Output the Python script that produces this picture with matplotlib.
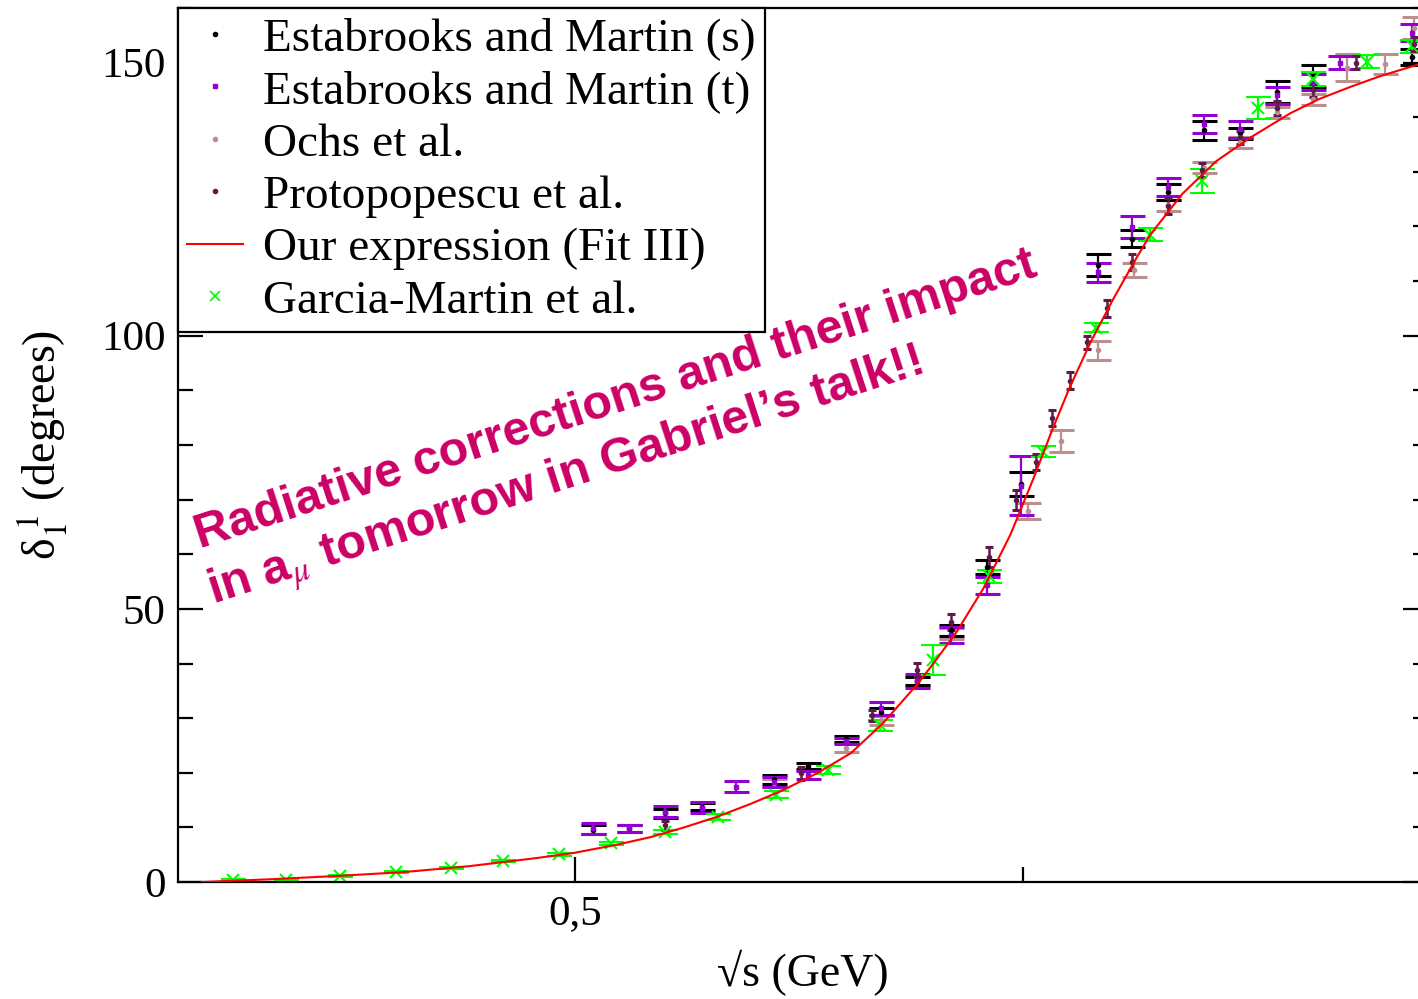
import numpy as np
import matplotlib
matplotlib.use("Agg")
import matplotlib.pyplot as plt
from matplotlib.lines import Line2D
from matplotlib.ticker import MultipleLocator, FixedLocator, FuncFormatter

# ----------- Data ---------------------------------
# Estabrooks and Martin (s)
em_s_x = [0.510, 0.530, 0.550, 0.571, 0.611, 0.630, 0.651, 0.671, 0.691, 0.710,
          0.730, 0.749, 0.792, 0.811, 0.831, 0.851, 0.871, 0.892, 0.912, 0.967]
em_s_y = [9.6, 9.8, 12.6, 13.8, 18.8, 21.2, 26.2, 31.2, 36.8, 46.1,
          57.7, 72.9, 113.0, 117.8, 126.3, 137.6, 137.1, 144.6, 147.6, 151.0]
em_s_e = [0.8, 0.6, 0.8, 0.7, 0.8, 0.6, 0.6, 0.7, 0.8, 1.0,
          1.3, 2.2, 2.0, 1.5, 1.4, 1.8, 1.0, 2.0, 2.0, 1.5]

# Estabrooks and Martin (t)
em_t_x = [0.510, 0.530, 0.550, 0.571, 0.590, 0.611, 0.630, 0.651, 0.671, 0.691,
          0.710, 0.730, 0.749, 0.792, 0.811, 0.831, 0.851, 0.871, 0.892, 0.912,
          0.927, 0.967]
em_t_y = [9.8, 9.8, 12.9, 13.6, 17.4, 18.3, 19.6, 25.8, 31.8, 36.8,
          45.2, 54.3, 72.5, 111.6, 119.9, 127.2, 138.8, 137.8, 144.0, 146.4,
          150.0, 155.5]
em_t_e = [1.0, 0.7, 1.0, 1.0, 1.0, 1.0, 0.8, 0.6, 1.2, 1.3,
          1.5, 1.5, 5.4, 1.7, 2.0, 1.6, 1.6, 1.6, 1.5, 1.5,
          1.2, 1.5]

# Ochs et al.
ochs_x = [0.611, 0.651, 0.671, 0.691, 0.710, 0.753, 0.771, 0.792, 0.812, 0.831,
          0.851, 0.871, 0.892, 0.912, 0.931, 0.952, 0.968]
ochs_y = [18.1, 24.6, 29.6, 36.8, 45.5, 67.9, 80.8, 97.3, 112.1, 123.9,
          130.8, 135.4, 140.9, 143.3, 149.1, 149.7, 156.4]
ochs_e = [0.8, 0.8, 0.8, 1.0, 1.0, 1.5, 2.0, 1.7, 1.3, 1.0,
          1.0, 1.0, 1.0, 1.0, 2.4, 1.8, 2.0]

# Protopopescu et al.
prot_x = [0.550, 0.626, 0.666, 0.691, 0.710, 0.731, 0.746, 0.757, 0.766, 0.776,
          0.786, 0.797, 0.811, 0.831, 0.850, 0.871, 0.892, 0.912, 0.936, 0.968]
prot_y = [10.4, 19.9, 30.5, 38.8, 47.6, 59.5, 69.9, 76.9, 84.9, 91.8,
          98.8, 105.0, 113.5, 123.8, 130.3, 136.3, 141.7, 144.9, 150.0, 153.4]
prot_e = [0.8, 1.2, 1.0, 1.3, 1.5, 1.8, 1.8, 1.5, 1.5, 1.5,
          1.2, 1.5, 1.5, 1.5, 1.3, 1.2, 1.2, 1.2, 1.2, 1.2]

# Garcia-Martin et al.
gm_x = [0.309, 0.339, 0.369, 0.400, 0.431, 0.460, 0.491, 0.520, 0.550, 0.580,
        0.612, 0.641, 0.670, 0.700, 0.731, 0.761, 0.791, 0.821, 0.850, 0.881,
        0.912, 0.942, 0.967]
gm_y = [0.37, 0.37, 1.1, 1.8, 2.6, 3.8, 5.1, 7.1, 9.2, 11.9,
        16.0, 20.5, 28.7, 40.6, 56.0, 78.8, 101.5, 118.5, 128.3, 141.7,
        147.0, 150.2, 153.0]
gm_e = [0.1, 0.1, 0.15, 0.2, 0.2, 0.2, 0.25, 0.3, 0.4, 0.5,
        0.6, 0.7, 1.0, 2.7, 1.2, 1.0, 0.8, 1.2, 2.2, 2.0,
        1.2, 1.2, 1.2]

# Our expression (Fit III)
fit_x = [0.292, 0.330, 0.367, 0.404, 0.441, 0.479, 0.499, 0.523, 0.542, 0.560,
         0.579, 0.598, 0.616, 0.635, 0.654, 0.672, 0.691, 0.700, 0.713, 0.728,
         0.743, 0.756, 0.766, 0.776, 0.788, 0.800, 0.812, 0.821, 0.839, 0.858,
         0.877, 0.899, 0.915, 0.933, 0.950, 0.970]
fit_y = [0.0, 0.5, 1.1, 1.8, 2.9, 4.4, 5.3, 6.8, 8.2, 9.9,
         11.9, 14.3, 16.8, 19.9, 23.6, 29.1, 36.2, 40.0, 45.8, 53.8,
         63.6, 74.0, 82.5, 90.5, 99.0, 106.5, 113.5, 118.5, 126.0, 132.0,
         136.3, 140.7, 143.3, 145.6, 147.6, 149.6]

labels = ["Estabrooks and Martin (s)", "Estabrooks and Martin (t)", "Ochs et al.",
          "Protopopescu et al.", "Our expression (Fit III)", "Garcia-Martin et al."]
# --------------------------------------------------

C_EMS = "black"
C_EMT = "#9400d3"
C_OCHS = "#bc8f8f"
C_PROT = "#5e1a48"
C_FIT = "#ff0000"
C_GM = "#00ff00"

plt.rcParams["font.family"] = "serif"
plt.rcParams["font.serif"] = ["Liberation Serif", "DejaVu Serif"]
plt.rcParams["mathtext.fontset"] = "stix"

fig = plt.figure(figsize=(14.18, 9.99), dpi=100)
ax = fig.add_axes([178 / 1418, 1 - 882 / 999, (1428 - 178) / 1418, (882 - 8) / 999])

eb = dict(linestyle="none", capsize=9, capthick=2.2, elinewidth=1.6)
ax.errorbar(ochs_x, ochs_y, yerr=ochs_e, fmt="o", ms=3, color=C_OCHS, **eb)
ax.errorbar(em_s_x, em_s_y, yerr=em_s_e, fmt="o", ms=3, color=C_EMS, **eb)
ax.errorbar(em_t_x, em_t_y, yerr=em_t_e, fmt="s", ms=3.5, color=C_EMT, **eb)
ax.errorbar(gm_x, gm_y, yerr=gm_e, fmt="x", ms=8, mew=1.5, color=C_GM, **eb)
ax.errorbar(prot_x, prot_y, yerr=prot_e, fmt="o", ms=3, color=C_PROT,
            linestyle="none", capsize=3, capthick=2.2, elinewidth=1.8)
ax.plot(fit_x, fit_y, color=C_FIT, lw=1.5, zorder=5)

ax.set_xlim(0.2785, 0.976)
ax.set_ylim(0, 160)

ax.xaxis.set_major_locator(FixedLocator([0.5, 1.0]))
ax.xaxis.set_minor_locator(FixedLocator([0.25, 0.75]))
ax.xaxis.set_major_formatter(FuncFormatter(lambda v, p: f"{v:g}".replace(".", ",")))
ax.yaxis.set_major_locator(MultipleLocator(50))
ax.yaxis.set_minor_locator(MultipleLocator(10))

ax.tick_params(which="both", direction="in", width=1.6, labelsize=31, right=True)
ax.tick_params(which="major", length=18, pad=9)
ax.tick_params(which="minor", length=10.5)
for s in ax.spines.values():
    s.set_linewidth(1.6)

ax.set_xlabel("√s (GeV)", fontsize=33, labelpad=12)
ax.set_ylabel(r"δ$_1^{\ 1}$ (degrees)", fontsize=33, labelpad=22)

handles = [
    Line2D([], [], ls="none", marker="o", ms=3, color=C_EMS),
    Line2D([], [], ls="none", marker="s", ms=3.5, color=C_EMT),
    Line2D([], [], ls="none", marker="o", ms=3, color=C_OCHS),
    Line2D([], [], ls="none", marker="o", ms=3, color=C_PROT),
    Line2D([], [], color=C_FIT, lw=1.5),
    Line2D([], [], ls="none", marker="x", ms=7, mew=1.2, color=C_GM),
]
leg = ax.legend(handles, labels, loc="upper left", bbox_to_anchor=(0, 1),
                borderaxespad=0, fontsize=34, frameon=True, fancybox=False,
                framealpha=1, edgecolor="black", handlelength=1.17,
                handletextpad=0.42, labelspacing=0.2, borderpad=0.2)
leg.get_frame().set_linewidth(1.6)

note = dict(color="#cc0066", fontsize=35, fontweight="bold",
            family=["Liberation Sans", "DejaVu Sans"], rotation=18.0,
            rotation_mode="anchor", ha="left", va="baseline")
fig.text(200 / 1418, 1 - 548 / 999, "Radiative corrections and their impact", **note)
fig.text(213 / 1418, 1 - 604 / 999, r"in a$_{\mu}$ tomorrow in Gabriel’s talk!!", **note)

fig.savefig("out.png", dpi=100)
